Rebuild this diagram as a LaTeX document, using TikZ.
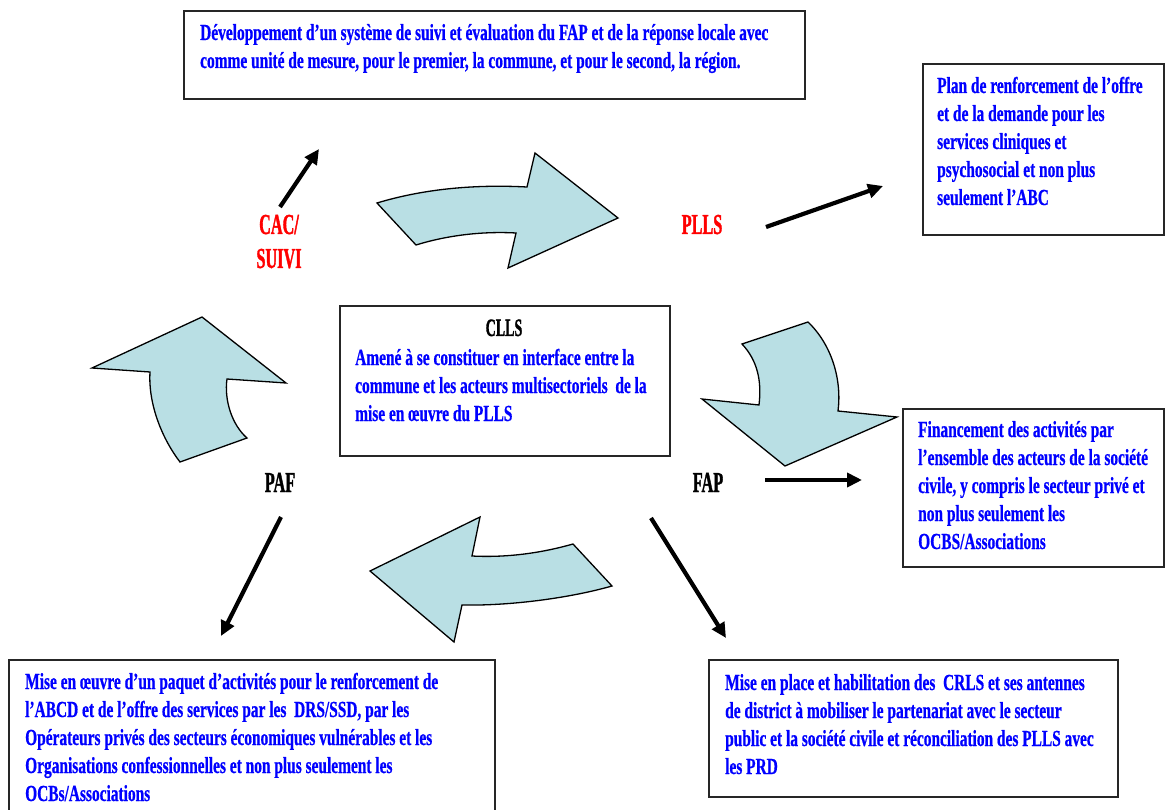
\documentclass[tikz,border=0pt]{standalone}
\usepackage{fontspec}
\usetikzlibrary{arrows.meta}
\newfontfamily\bodyfont{Liberation Serif}[FakeStretch=0.67, FakeBold=0.6]
\newfontfamily\tagfont{Liberation Serif}[FakeStretch=0.56, FakeBold=1.2]
\definecolor{flowfill}{RGB}{185,223,228}
\definecolor{inkblue}{RGB}{0,0,255}
\definecolor{inkred}{RGB}{255,0,0}
\begin{document}
\begin{tikzpicture}[x=1pt,y=-1pt,
  panel/.style={draw=black!85, line width=1.6pt, rectangle, inner sep=0pt, anchor=north west},
  % placed by the baseline of the last line
  bodytext/.style={font=\bodyfont\bfseries\fontsize{23}{28}\selectfont, text=inkblue, align=left, inner sep=0pt, anchor=base west},
  tag/.style={font=\tagfont\bfseries\fontsize{29}{34}\selectfont, inner sep=0pt, anchor=base, align=center},
  flow/.style={fill=flowfill, draw=black, line width=1.3pt, line join=miter},
  link/.style={line width=4.2pt, -{Triangle[length=15pt,width=14pt]}}]
\useasboundingbox (0,0) rectangle (1165,810);

% frames
\node[panel, minimum width=621pt, minimum height=88pt] (evalbox) at (183,10) {};
\node[panel, minimum width=241pt, minimum height=171pt] (planbox) at (922,63) {};
\node[panel, minimum width=330pt, minimum height=150pt] (cllsbox) at (339,305) {};
\node[panel, minimum width=261pt, minimum height=158pt] (finbox) at (902,408) {};
\node[panel, minimum width=486pt, minimum height=170pt] (paqbox) at (8,659) {};
\node[panel, minimum width=409pt, minimum height=137pt] (crlsbox) at (708,659) {};

% frame texts
\node[bodytext] (evaltext) at (200,68) {Développement d’un système de suivi et évaluation du FAP et de la réponse locale avec\\comme unité de mesure, pour le premier, la commune, et pour le second, la région.};
\node[bodytext] (plantext) at (937,205) {Plan de renforcement de l’offre\\et de la demande pour les\\services cliniques et\\psychosocial et non plus\\seulement l’ABC};
\node[tag, font=\tagfont\bfseries\fontsize{25}{30}\selectfont] (cllstitle) at (504,336) {CLLS};
\node[bodytext] (cllstext) at (355,421) {Amené à se constituer en interface entre la\\commune et les acteurs multisectoriels~ de la\\mise en œuvre du PLLS};
\node[bodytext] (fintext) at (918,549) {Financement des activités par\\l’ensemble des acteurs de la société\\civile, y compris le secteur privé et\\non plus seulement les\\OCBS/Associations};
\node[bodytext] (paqtext) at (25,801) {Mise en œuvre d’un paquet d’activités pour le renforcement de\\l’ABCD et de l’offre des services par les~ DRS/SSD, par les\\Opérateurs privés des secteurs économiques vulnérables et les\\Organisations confessionnelles et non plus seulement les\\OCBs/Associations};
\node[bodytext] (crlstext) at (725,774) {Mise en place et habilitation des~ CRLS et ses antennes\\de district à mobiliser le partenariat avec le secteur\\public et la société civile et réconciliation des PLLS avec\\les PRD};

% cycle of curved block arrows
\draw[flow] (377,203) .. controls (420,190) and (470,184) .. (527,187) -- (535,153) -- (618,218) -- (508,268) -- (516,233) .. controls (480,231) and (445,236) .. (416,245) -- cycle;
\draw[flow] (742,344) -- (808,322) .. controls (832,345) and (842,380) .. (838,411) -- (897,417) -- (785,466) -- (702,399) -- (759,405) .. controls (762,380) and (757,360) .. (742,344) -- cycle;
\draw[flow] (573,544) -- (612,586) .. controls (570,598) and (510,606) .. (462,605) -- (454,642) -- (370,571) -- (480,517) -- (472,556) .. controls (510,558) and (545,552) .. (573,544) -- cycle;
\draw[flow] (202,317) -- (286,383) -- (227,379) .. controls (224,400) and (232,425) .. (247,438) -- (180,462) .. controls (163,440) and (148,405) .. (150,372) -- (92,368) -- cycle;

% stage labels
\node[tag, text=inkred] (cac) at (279,268) {CAC/\\SUIVI};
\node[tag, text=inkred] (plls) at (702,234) {PLLS};
\node[tag] (paf) at (280,492) {PAF};
\node[tag] (fap) at (708,492) {FAP};

% pointers from the stages to their actions
\coordinate (cacTail) at (280,207);
\coordinate (cacHead) at (319,149);
\coordinate (pllsTail) at (766,227);
\coordinate (pllsHead) at (883,186);
\coordinate (fapTail) at (765,480);
\coordinate (fapHead) at (862,480);
\coordinate (pafTail) at (281,517);
\coordinate (pafHead) at (221,636);
\coordinate (prdTail) at (651,518);
\coordinate (prdHead) at (726,638);
\draw[link] (cacTail) -- (cacHead);
\draw[link] (pllsTail) -- (pllsHead);
\draw[link] (fapTail) -- (fapHead);
\draw[link] (pafTail) -- (pafHead);
\draw[link] (prdTail) -- (prdHead);
\end{tikzpicture}
\end{document}
